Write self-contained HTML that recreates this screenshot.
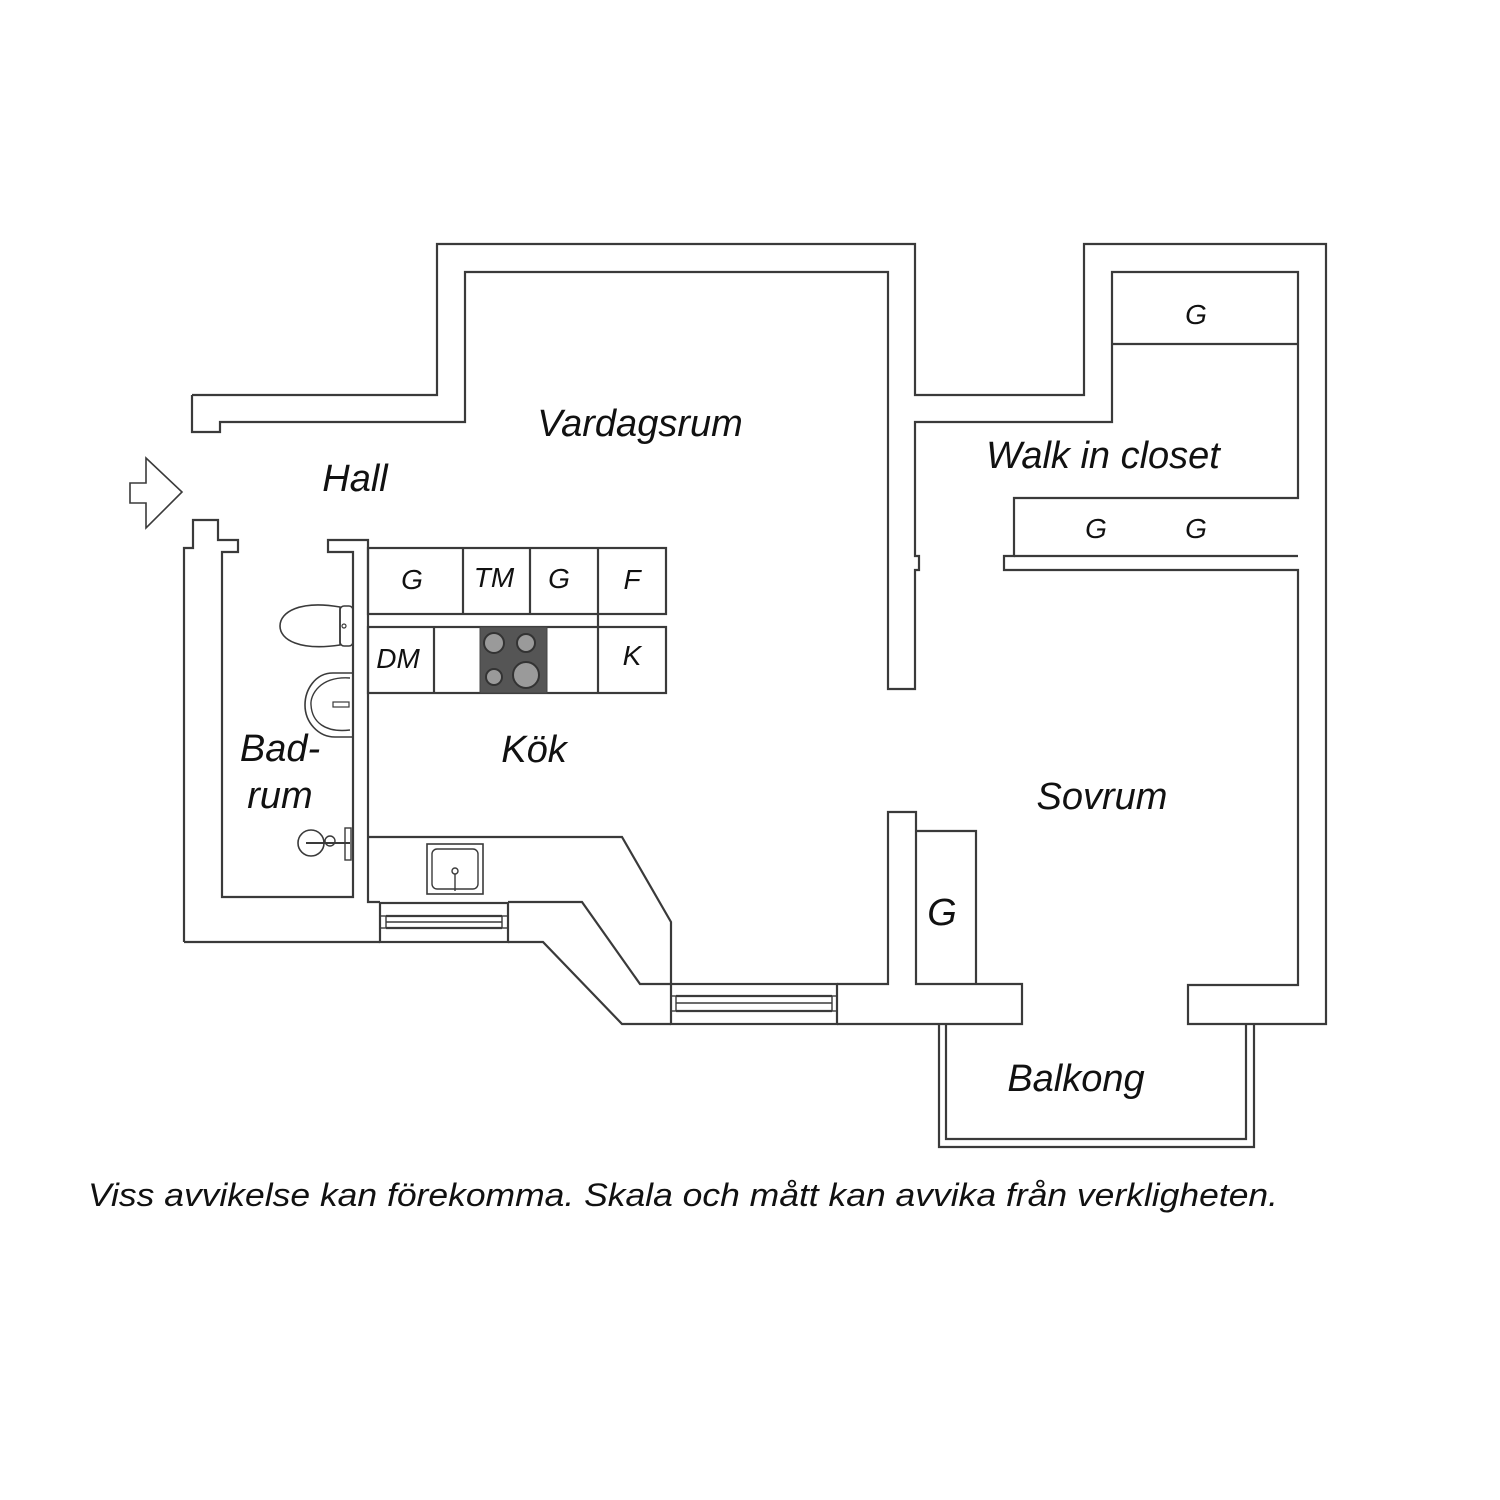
<!DOCTYPE html>
<html><head><meta charset="utf-8"><style>
html,body{margin:0;padding:0;background:#fff;}
svg{display:block;}
text{font-family:"Liberation Sans",sans-serif;font-style:italic;fill:#111;}
</style></head><body>
<svg width="1500" height="1500" viewBox="0 0 1500 1500" xmlns="http://www.w3.org/2000/svg">
<g fill="none" stroke="#3a3a3a" stroke-width="2.2" stroke-linejoin="miter">
<!-- top outer wall -->
<polyline points="192,395 437,395 437,244 915,244 915,395 1084,395 1084,244 1326,244 1326,1024 1188,1024 1188,985 1298,985 1298,570 1004,570 1004,556 1014,556 1014,498 1298,498 1298,272 1112,272 1112,422 915,422 915,556 919,556 919,570 915,570 915,689 888,689 888,272 465,272 465,422 220,422 220,432 192,432 192,395"/>
<line x1="1014" y1="556" x2="1298" y2="556"/>
<line x1="1112" y1="344" x2="1298" y2="344"/>
<!-- hall/bath left wall -->
<polyline points="184,942 184,548 193,548 193,520 218,520 218,540 238,540 238,552 222,552 222,897 353,897 353,552 328,552 328,540 368,540 368,902 380,902"/>
<polyline points="184,942 380,942"/>
<!-- window 1 -->
<rect x="380" y="903" width="128" height="39"/>
<line x1="386" y1="916" x2="502" y2="916"/>
<line x1="386" y1="928" x2="502" y2="928"/>
<line x1="386" y1="922" x2="502" y2="922" stroke-width="1.4"/>
<rect x="380" y="916" width="6" height="12" stroke-width="1.4"/>
<rect x="502" y="916" width="6" height="12" stroke-width="1.4"/>
<!-- bottom walls -->
<polyline points="508,902 582,902 640,984 671,984"/>
<polyline points="508,942 543,942 622,1024 671,1024"/>
<rect x="671" y="984" width="166" height="40"/>
<line x1="676" y1="996" x2="832" y2="996"/>
<line x1="676" y1="1011" x2="832" y2="1011"/>
<line x1="676" y1="1003" x2="832" y2="1003" stroke-width="1.4"/>
<rect x="671" y="996" width="5" height="15" stroke-width="1.4"/>
<rect x="832" y="996" width="5" height="15" stroke-width="1.4"/>
<polyline points="837,984 888,984 888,812 916,812 916,984 1022,984 1022,1024 837,1024"/>
<polyline points="916,831 976,831 976,984"/>
<!-- balcony -->
<polyline points="939,1024 939,1147 1254,1147 1254,1024"/>
<polyline points="946,1024 946,1139 1246,1139 1246,1024"/>
<!-- kitchen counter -->
<polyline points="368,837 622,837 671,922 671,984"/>
<!-- upper cabinets -->
<rect x="368" y="548" width="298" height="66"/>
<line x1="463" y1="548" x2="463" y2="614"/>
<line x1="530" y1="548" x2="530" y2="614"/>
<line x1="598" y1="548" x2="598" y2="693"/>
<rect x="368" y="627" width="298" height="66"/>
<line x1="434" y1="627" x2="434" y2="693"/>
<!-- arrow -->
<polygon points="130,483 146,483 146,458 182,492 146,528 146,503 130,503" stroke-width="1.6"/>
<!-- sink kitchen -->
<rect x="427" y="844" width="56" height="50" stroke-width="1.6"/>
<rect x="432" y="849" width="46" height="40" rx="5" stroke-width="1.4"/>
<circle cx="455" cy="871" r="3" stroke-width="1.4"/>
<line x1="455" y1="874" x2="455" y2="891" stroke-width="1.4"/>
<!-- toilet -->
<path d="M340,607 C300,600 280,612 280,626 C280,640 300,651 340,645 Z" stroke-width="1.6"/>
<rect x="340" y="606" width="13" height="40" rx="4" stroke-width="1.6"/>
<circle cx="344" cy="626" r="2" stroke-width="1.2"/>
<!-- bath sink -->
<path d="M353,673 L333,673 C315,673 305,690 305,705 C305,722 318,737 335,737 L353,737" stroke-width="1.6"/>
<path d="M350,678 C320,676 310,695 311,705 C312,722 325,733 350,730" stroke-width="1.4"/>
<rect x="333" y="702" width="16" height="5" stroke-width="1.2"/>
<!-- shower -->
<circle cx="311" cy="843" r="13" stroke-width="1.6"/>
<line x1="306" y1="843" x2="350" y2="843" stroke-width="2"/>
<rect x="345" y="828" width="6" height="32" stroke-width="1.4"/>
<circle cx="330" cy="841" r="5" stroke-width="1.4"/>
</g>
<!-- stove -->
<rect x="480" y="627" width="67" height="66" fill="#555" stroke="#444"/>
<g fill="#9a9a9a" stroke="#333" stroke-width="2">
<circle cx="494" cy="643" r="10"/>
<circle cx="526" cy="643" r="9"/>
<circle cx="494" cy="677" r="8"/>
<circle cx="526" cy="675" r="13"/>
</g>
<!-- labels -->
<g font-size="38" text-anchor="middle">
<text x="640" y="436">Vardagsrum</text>
<text x="355" y="491">Hall</text>
<text x="1103" y="468">Walk in closet</text>
<text x="1102" y="809">Sovrum</text>
<text x="534" y="762">Kök</text>
<text x="280" y="761">Bad-</text>
<text x="280" y="808">rum</text>
<text x="1076" y="1091">Balkong</text>
<text x="942" y="925">G</text>
</g>
<g font-size="28" text-anchor="middle">
<text x="1196" y="324">G</text>
<text x="1096" y="538">G</text>
<text x="1196" y="538">G</text>
<text x="412" y="589">G</text>
<text x="494" y="587">TM</text>
<text x="559" y="588">G</text>
<text x="632" y="589">F</text>
<text x="398" y="668">DM</text>
<text x="632" y="665">K</text>
</g>
<text x="88" y="1206" font-size="32" textLength="1190" lengthAdjust="spacingAndGlyphs">Viss avvikelse kan förekomma. Skala och mått kan avvika från verkligheten.</text>
</svg>
</body></html>
